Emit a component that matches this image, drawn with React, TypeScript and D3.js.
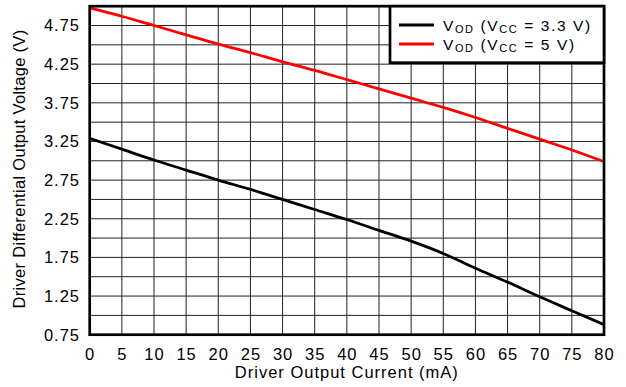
import React from "react";
import * as d3 from "d3";

// Driver output current (mA)
const currents = [0, 5, 10, 15, 20, 25, 30, 35, 40, 45, 50, 55, 60, 65, 70, 75, 80];
// V_OD at VCC = 3.3 V
const vod33 = [3.29, 3.15, 3.01, 2.88, 2.75, 2.63, 2.5, 2.37, 2.24, 2.1, 1.96, 1.8, 1.61, 1.43, 1.24, 1.06, 0.88];
// V_OD at VCC = 5 V
const vod5 = [4.98, 4.87, 4.75, 4.63, 4.51, 4.4, 4.28, 4.17, 4.05, 3.93, 3.81, 3.69, 3.56, 3.42, 3.28, 3.14, 2.99];

const yTickLabels = [0.75, 1.25, 1.75, 2.25, 2.75, 3.25, 3.75, 4.25, 4.75];
const yGrid = d3.range(0.75, 5.0001, 0.25);
const xTicks = d3.range(0, 81, 5);

const W = 626;
const H = 387;
const margin = { top: 6.2, right: 22, bottom: 52.3, left: 89.7 };
const font = "'Liberation Sans', Arial, sans-serif";

export default function App() {
  const x = d3.scaleLinear().domain([0, 80]).range([margin.left, W - margin.right]);
  const y = d3.scaleLinear().domain([0.75, 5.0]).range([H - margin.bottom, margin.top]);

  const line = d3
    .line<number>()
    .x((_, i) => x(currents[i]))
    .y((d) => y(d))
    .curve(d3.curveMonotoneX);

  const [x0, x1] = x.range();
  const [yb, yt] = y.range();

  const legX = 390;
  const legY = margin.top;
  const legW = x1 - legX;
  const legH = 56.5;

  const legendRows = [
    { color: "#000", vcc: "3.3" },
    { color: "#ff0000", vcc: "5" },
  ];

  return (
    <svg
      width={W}
      height={H}
      style={{ position: "absolute", left: 0, top: 0, background: "#fff" }}
      fontFamily={font}
    >
      {/* grid */}
      <g stroke="#222" strokeWidth={1}>
        {xTicks.map((t) => (
          <line key={"gx" + t} x1={x(t)} x2={x(t)} y1={yt} y2={yb} />
        ))}
        {yGrid.map((t) => (
          <line key={"gy" + t} x1={x0} x2={x1} y1={y(t)} y2={y(t)} />
        ))}
      </g>

      {/* curves */}
      <path d={line(vod5) || ""} fill="none" stroke="#ff0000" strokeWidth={2.8} />
      <path d={line(vod33) || ""} fill="none" stroke="#000" strokeWidth={2.8} />

      {/* plot border */}
      <rect x={x0} y={yt} width={x1 - x0} height={yb - yt} fill="none" stroke="#000" strokeWidth={2.7} />

      {/* legend */}
      <rect x={legX} y={legY} width={legW} height={legH} fill="#fff" stroke="#000" strokeWidth={2.7} />
      {legendRows.map((r, i) => {
        const cy = 25 + i * 19;
        return (
          <g key={r.vcc}>
            <line x1={399} x2={434} y1={cy} y2={cy} stroke={r.color} strokeWidth={2.8} />
            <text x={443} y={cy + 5.7} fontSize={15.5} letterSpacing={1.6} fill="#000">
              V<tspan fontSize={11} dy={2}>OD</tspan>
              <tspan dy={-2}> (V</tspan>
              <tspan fontSize={11} dy={2}>CC</tspan>
              <tspan dy={-2}>{` = ${r.vcc} V)`}</tspan>
            </text>
          </g>
        );
      })}

      {/* y tick labels */}
      {yTickLabels.map((t) => (
        <text
          key={"yl" + t}
          x={80}
          y={y(t)}
          dy="0.36em"
          textAnchor="end"
          fontSize={16.5}
          letterSpacing={1}
          fill="#000"
        >
          {t.toFixed(2)}
        </text>
      ))}

      {/* x tick labels */}
      {xTicks.map((t) => (
        <text key={"xl" + t} x={x(t) + 0.5} y={360} textAnchor="middle" fontSize={16.5} letterSpacing={1} fill="#000">
          {t}
        </text>
      ))}

      {/* axis titles */}
      <text x={(x0 + x1) / 2} y={378} textAnchor="middle" fontSize={16.5} letterSpacing={1} fill="#000">
        Driver Output Current (mA)
      </text>
      <text
        transform={`translate(25, 169) rotate(-90)`}
        textAnchor="middle"
        fontSize={16.5}
        letterSpacing={0.3}
        fill="#000"
      >
        Driver Differential Output Voltage (V)
      </text>
    </svg>
  );
}
